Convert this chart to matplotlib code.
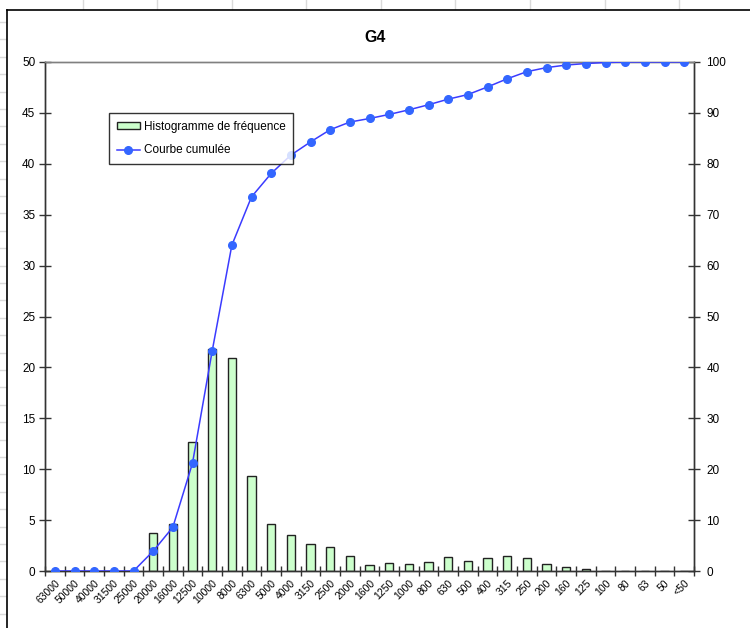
import matplotlib
matplotlib.use("Agg")
import matplotlib.pyplot as plt
from matplotlib.lines import Line2D
from matplotlib.patches import Patch
import numpy as np

plt.rcParams['font.family'] = ['Liberation Sans', 'DejaVu Sans']

# Sieve classes (µm), coarse to fine
classes = ["63000", "50000", "40000", "31500", "25000", "20000", "16000", "12500",
           "10000", "8000", "6300", "5000", "4000", "3150", "2500", "2000", "1600",
           "1250", "1000", "800", "630", "500", "400", "315", "250", "200", "160",
           "125", "100", "80", "63", "50", "<50"]

# Frequency per class (%)
frequence = [0.0, 0.0, 0.0, 0.0, 0.0, 3.75, 4.6, 12.7, 21.85, 20.9, 9.3, 4.65,
             3.57, 2.65, 2.36, 1.44, 0.63, 0.83, 0.73, 0.92, 1.35, 0.95, 1.24,
             1.5, 1.3, 0.69, 0.42, 0.22, 0.04, 0.04, 0.04, 0.04, 0.04]

# Cumulative passing (%)
cumulee = [0.0, 0.0, 0.0, 0.0, 0.0, 3.9, 8.6, 21.2, 43.2, 64.0, 73.5, 78.1,
           81.7, 84.3, 86.7, 88.2, 88.9, 89.7, 90.6, 91.6, 92.7, 93.6, 95.1,
           96.7, 98.1, 98.9, 99.4, 99.7, 99.9, 100.0, 100.0, 100.0, 100.0]

W, H = 750, 628
fig = plt.figure(figsize=(W / 100, H / 100), dpi=100)
fig.patch.set_facecolor('white')

# Worksheet cell grid around the chart object
grid_col = '#dadada'
for xc in [83, 157, 232, 306, 381, 455, 530, 605, 679]:
    fig.add_artist(Line2D([xc / W, xc / W], [1, 1 - 9 / H], color=grid_col, lw=1))
for yr in np.arange(22, H, 17.4):
    fig.add_artist(Line2D([0, 6 / W], [1 - yr / H, 1 - yr / H], color=grid_col, lw=1))
# Chart object frame
fig.add_artist(Line2D([7 / W, 7 / W], [0, 1 - 10 / H], color='black', lw=1.2))
fig.add_artist(Line2D([7 / W, 1], [1 - 10 / H, 1 - 10 / H], color='black', lw=1.2))

x0, x1, y0, y1 = 45, 694, 62, 571
ax = fig.add_axes([x0 / W, 1 - y1 / H, (x1 - x0) / W, (y1 - y0) / H])
ax2 = ax.twinx()

x = np.arange(len(classes))
ax.bar(x, frequence, width=0.42, color='#ccffcc', edgecolor='#222222', linewidth=1.0, zorder=2)
ax2.plot(x, cumulee, color='#3b3bff', lw=1.1, marker='o', markersize=5.5,
         markerfacecolor='#3366ff', markeredgecolor='#3366ff', zorder=3)

ax.set_xlim(-0.5, len(classes) - 0.5)
ax.set_ylim(0, 50)
ax2.set_ylim(0, 100)
ax.set_yticks(np.arange(0, 51, 5))
ax2.set_yticks(np.arange(0, 101, 10))

ax.set_xticks(x)
ax.set_xticklabels(classes, rotation=45, ha='right', rotation_mode='anchor', fontsize=7.5)
ax.tick_params(axis='x', which='major', length=0, pad=5)
ax.set_xticks(np.arange(-0.5, len(classes), 1.0), minor=True)
ax.tick_params(axis='x', which='minor', direction='inout', length=7, width=1, color='#333333')
ax.tick_params(axis='y', direction='inout', length=8, width=1, color='#333333', labelsize=8.5, pad=3)
ax2.tick_params(axis='y', direction='inout', length=8, width=1, color='#333333', labelsize=8.5, pad=5)

for a in (ax, ax2):
    for s in ('left', 'right', 'bottom'):
        a.spines[s].set_color('#333333')
        a.spines[s].set_linewidth(1)
    a.spines['top'].set_color('#808080')
    a.spines['top'].set_linewidth(1)
ax.patch.set_visible(False)

fig.text(375 / W, 1 - 37 / H, "G4", ha='center', va='center', fontsize=11.5, fontweight='bold')

handles = [Patch(facecolor='#ccffcc', edgecolor='#222222', linewidth=1.0),
           Line2D([], [], color='#3b3bff', lw=1.1, marker='o', markersize=5.5,
                  markerfacecolor='#3366ff', markeredgecolor='#3366ff')]
leg = fig.legend(handles, ["Histogramme de fréquence", "Courbe cumulée"],
                 loc='upper left', bbox_to_anchor=(109 / W, 1 - 113 / H),
                 bbox_transform=fig.transFigure, fontsize=8.5, frameon=True,
                 fancybox=False, edgecolor='black', borderaxespad=0,
                 handlelength=2.0, handleheight=0.6, labelspacing=1.0,
                 borderpad=0.65, handletextpad=0.3)
leg.get_frame().set_linewidth(1)

fig.savefig("out.png", dpi=100)
